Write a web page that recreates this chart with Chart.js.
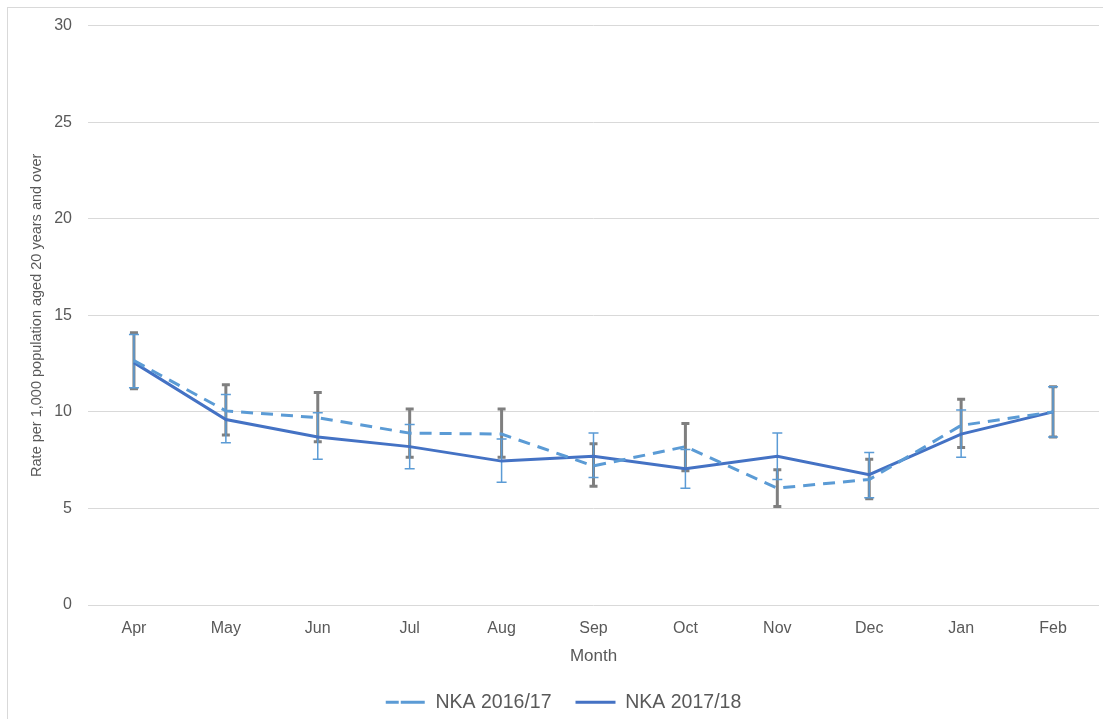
<!DOCTYPE html>
<html>
<head>
<meta charset="utf-8">
<script src="https://cdn.jsdelivr.net/npm/chart.js@4"></script>
<style>
    body { margin: 0; overflow: hidden; background: #fff; }
    #frame { position: absolute; left: 7px; top: 7px; width: 1200px; height: 800px;
             border-left: 1px solid #d9d9d9; border-top: 1px solid #d9d9d9; }
    #wrap { position: absolute; left: 0; top: 0; width: 1103px; height: 722px; }
</style>
</head>
<body>
<div id="frame"></div>
<div id="wrap"><canvas id="rateChart"></canvas></div>
<script>
// Months on the x axis
const months = ["Apr", "May", "Jun", "Jul", "Aug", "Sep", "Oct", "Nov", "Dec", "Jan", "Feb"];

// NKA 2016/17 (dashed line, grey error bars)
const nka1617 = [12.65, 10.05, 9.7, 8.9, 8.85, 7.2, 8.2, 6.05, 6.5, 9.3, 10.0];
const nka1617Low = [11.2, 8.8, 8.45, 7.65, 7.65, 6.15, 6.95, 5.1, 5.5, 8.15, 8.7];
const nka1617High = [14.1, 11.4, 11.0, 10.15, 10.15, 8.35, 9.4, 7.0, 7.55, 10.65, 11.3];

// NKA 2017/18 (solid line, thin blue error bars)
const nka1718 = [12.55, 9.6, 8.7, 8.2, 7.45, 7.7, 7.05, 7.7, 6.75, 8.85, 10.0];
const nka1718Low = [11.25, 8.4, 7.55, 7.05, 6.35, 6.6, 6.05, 6.5, 5.55, 7.65, 8.7];
const nka1718High = [14.0, 10.9, 9.95, 9.35, 8.6, 8.9, 8.05, 8.9, 7.9, 10.1, 11.3];

const yTicks = [0, 5, 10, 15, 20, 25, 30];

// Draw vertical error bars with caps, using the chart's own scales
function drawBars(ctx, x, y, low, high, color, width, cap) {
    ctx.save();
    ctx.strokeStyle = color;
    ctx.lineWidth = width;
    ctx.lineCap = "butt";
    low.forEach((lo, i) => {
        const px = x.getPixelForValue(i);
        const top = y.getPixelForValue(high[i]);
        const bottom = y.getPixelForValue(lo);
        ctx.beginPath();
        ctx.moveTo(px, top);
        ctx.lineTo(px, bottom);
        ctx.moveTo(px - cap / 2, top);
        ctx.lineTo(px + cap / 2, top);
        ctx.moveTo(px - cap / 2, bottom);
        ctx.lineTo(px + cap / 2, bottom);
        ctx.stroke();
    });
    ctx.restore();
}

const errorBars = {
    id: "errorBars",
    beforeDatasetsDraw(chart) {
        const {ctx, scales: {x, y}} = chart;
        drawBars(ctx, x, y, nka1617Low, nka1617High, "#7f7f7f", 3, 8);
        drawBars(ctx, x, y, nka1718Low, nka1718High, "#5b9bd5", 1.5, 10);
    }
};

// Nudge the legend a little to the right, like the original
const legendShift = {
    id: "legendShift",
    afterLayout(chart) {
        chart.legend.left += 14;
        chart.legend.right += 14;
    }
};

Chart.defaults.font.family = "'Liberation Sans', Arial, sans-serif";
Chart.defaults.color = "#595959";

new Chart(document.getElementById("rateChart"), {
    type: "line",
    data: {
        labels: months,
        datasets: [{
            label: "NKA 2016/17",
            data: nka1617,
            borderColor: "#5b9bd5",
            borderWidth: 3,
            borderDash: [12, 8],
            pointRadius: 0,
            tension: 0
        }, {
            label: "NKA 2017/18",
            data: nka1718,
            borderColor: "#4472c4",
            borderWidth: 3,
            pointRadius: 0,
            tension: 0
        }]
    },
    options: {
        responsive: true,
        maintainAspectRatio: false,
        animation: false,
        layout: {
            padding: { top: 25, right: 4, left: 0, bottom: 0 }
        },
        scales: {
            x: {
                offset: true,
                grid: { display: false },
                border: { display: false },
                ticks: { padding: 6, font: { size: 16 } },
                title: {
                    display: true,
                    text: "Month",
                    font: { size: 17 },
                    padding: { top: 0, bottom: 2.3 }
                },
                afterFit: scale => { scale.height = 63.5; }
            },
            y: {
                min: 0,
                max: 30,
                afterBuildTicks: scale => { scale.ticks = yTicks.map(v => ({ value: v })); },
                grid: { color: "#d9d9d9", drawTicks: false },
                border: { display: false },
                ticks: { padding: 16, font: { size: 16 } },
                title: {
                    display: true,
                    text: "Rate per 1,000 population aged 20 years and over",
                    font: { size: 14.5 },
                    padding: { top: 28.3, bottom: 0 }
                },
                afterFit: scale => { scale.width = 88; }
            }
        },
        plugins: {
            legend: {
                position: "bottom",
                labels: {
                    boxWidth: 40,
                    boxHeight: 0,
                    padding: 24,
                    font: { size: 19.5 },
                    generateLabels: chart => chart.data.datasets.map((ds, i) => ({
                        text: ds.label,
                        fillStyle: "rgba(0,0,0,0)",
                        strokeStyle: ds.borderColor,
                        lineWidth: 3,
                        lineDash: i === 0 ? [13, 13] : [],
                        fontColor: "#595959",
                        hidden: false,
                        datasetIndex: i
                    }))
                }
            },
            tooltip: { enabled: false }
        }
    },
    plugins: [errorBars, legendShift]
});
</script>
</body>
</html>
